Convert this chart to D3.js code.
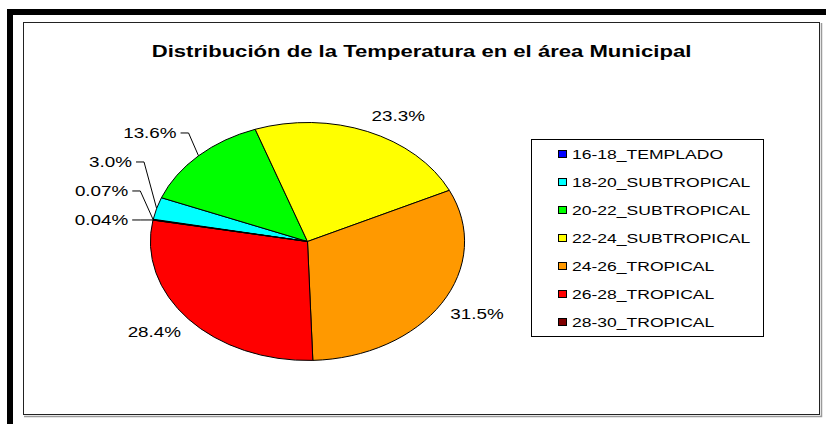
<!DOCTYPE html>
<html>
<head>
<meta charset="utf-8">
<script src="https://cdn.jsdelivr.net/npm/d3@7"></script>
<style>
  html, body { margin: 0; padding: 0; background: #fff; }
  svg { display: block; }
  text { font-family: "Liberation Sans", Arial, sans-serif; fill: #000; }
</style>
</head>
<body>
<svg id="chart" width="826" height="424"></svg>
<script>
// ---- data ----
const title = "Distribución de la Temperatura en el área Municipal";
const categories = ["16-18_TEMPLADO", "18-20_SUBTROPICAL", "20-22_SUBTROPICAL", "22-24_SUBTROPICAL", "24-26_TROPICAL", "26-28_TROPICAL", "28-30_TROPICAL"];
const values = [0.07, 3.0, 13.6, 23.3, 31.5, 28.4, 0.04];
const valueLabels = ["0.07%", "3.0%", "13.6%", "23.3%", "31.5%", "28.4%", "0.04%"];
const colors = ["#0000ff", "#00ffff", "#00ff00", "#ffff00", "#ff9900", "#ff0000", "#800000"];

// ---- layout ----
const W = 826, H = 424;
const stretch = 1.3;            // horizontal stretch of the original rendering
const cx = 307.5, cy = 241.5, ry = 119, rx = ry * 1.32;
const startDeg = -79.5;

const svg = d3.select("#chart");

function place(sel, x, y) {
  return sel.attr("transform", `translate(${x},${y}) scale(${stretch},1)`);
}

// outer thick frame (top & left visible)
svg.append("path")
  .attr("d", `M10,${H} V12 H${W}`)
  .attr("fill", "none").attr("stroke", "#000").attr("stroke-width", 6);

// plot box with shadow
svg.append("path").attr("d", "M821.5,23 V416.5 H24")
  .attr("fill", "none").attr("stroke", "#9a9a9a").attr("stroke-width", 1.5);
svg.append("rect").attr("x", 23.5).attr("y", 22.5).attr("width", 796).attr("height", 392)
  .attr("fill", "#fff").attr("stroke", "#222").attr("stroke-width", 1);

// title
place(svg.append("text"), 421.5, 57)
  .attr("text-anchor", "middle")
  .attr("font-size", 17).attr("font-weight", "bold")
  .text(title);

// pie
const pie = d3.pie().sort(null)
  .startAngle(startDeg * Math.PI / 180)
  .endAngle(startDeg * Math.PI / 180 + 2 * Math.PI);
const arcs = pie(values);
const arc = d3.arc().innerRadius(0).outerRadius(1);

const pg = svg.append("g").attr("transform", `translate(${cx},${cy}) scale(${rx},${ry})`);
pg.selectAll("path").data(arcs).enter().append("path")
  .attr("d", arc)
  .attr("fill", (d, i) => colors[i])
  .attr("stroke", "#000").attr("stroke-width", 1)
  .attr("vector-effect", "non-scaling-stroke");

// labels
const lrx = rx + 10, lry = ry + 11;
const info = arcs.map((d, i) => {
  const a = (d.startAngle + d.endAngle) / 2;
  const s = Math.sin(a), c = Math.cos(a);
  return { i, a, s, c,
    px: cx + lrx * s, py: cy - lry * c,
    ex: cx + rx * s, ey: cy - ry * c };
});

const lg = svg.append("g");
const fs = 14.5;
// leader-line labels: upper-left quadrant, stacked from the bottom
const leader = info.filter(o => o.s < 0 && o.c > 0).sort((a, b) => b.py - a.py);
let prev = null;
leader.forEach(o => {
  const yc = prev === null ? o.py + 2 : Math.min(o.py + 2, prev - 29);
  prev = yc;
  const xe = o.px - 15;
  place(lg.append("text"), xe, yc)
    .attr("text-anchor", "end").attr("dy", "0.36em")
    .attr("font-size", fs).text(valueLabels[o.i]);
  lg.append("polyline")
    .attr("points", [[xe + 4, yc], [xe + 12, yc], [o.ex, o.ey]].map(p => p.join(",")).join(" "))
    .attr("fill", "none").attr("stroke", "#000").attr("stroke-width", 1);
});
info.filter(o => !(o.s < 0 && o.c > 0)).forEach(o => {
  const baseline = o.c > 0 ? o.py : o.py + 0.72 * fs;
  place(lg.append("text"), o.px, baseline)
    .attr("text-anchor", o.s >= 0 ? "start" : "end")
    .attr("font-size", fs).text(valueLabels[o.i]);
});

// legend
const legX = 531, legY = 139, legW = 232, legH = 197;
svg.append("rect").attr("x", legX + 0.5).attr("y", legY + 0.5)
  .attr("width", legW).attr("height", legH)
  .attr("fill", "#fff").attr("stroke", "#000").attr("stroke-width", 1);
const rowY = d3.scalePoint().domain(categories).range([154, 322]);
const items = svg.append("g").selectAll("g").data(categories).enter().append("g");
items.append("rect")
  .attr("x", 558.5).attr("y", d => rowY(d) - 3.5)
  .attr("width", 8).attr("height", 7)
  .attr("fill", (d, i) => colors[i]).attr("stroke", "#000").attr("stroke-width", 1);
items.each(function (d) {
  place(d3.select(this).append("text"), 572, rowY(d))
    .attr("dy", "0.36em").attr("font-size", 13.5).text(d);
});
</script>
</body>
</html>
